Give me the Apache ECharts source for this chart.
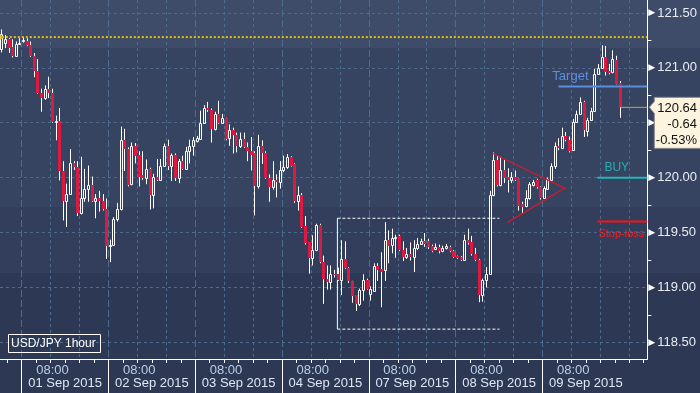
<!DOCTYPE html>
<html><head><meta charset="utf-8">
<script src="https://cdn.jsdelivr.net/npm/echarts@6/dist/echarts.min.js"></script>
<style>html,body{margin:0;padding:0;background:#2c3853;}#c{width:700px;height:393px;}</style>
</head><body><div id="c"></div>
<script>
// ---------- categories (hourly slots) ----------
const slotDays = ['31 Aug 2015','01 Sep 2015','02 Sep 2015','03 Sep 2015','04 Sep 2015','07 Sep 2015','08 Sep 2015','09 Sep 2015','10 Sep 2015'];
const firstSlotHour = 18;   // first slot on 31 Aug
const lastSlotHour = 4;     // last (empty) slot on 10 Sep

// ---------- candles [open, close, low, high] per day ----------
const aug31 = [
 [121.17,121.31,121.14,121.35],[121.23,121.26,121.18,121.30],[121.26,121.18,121.135,121.27],
 [121.19,121.105,121.095,121.26],[121.105,121.22,121.10,121.24],[121.22,121.23,121.21,121.27]];
const sep01 = [
 [121.245,121.25,121.23,121.28],[121.24,121.21,121.20,121.27],[121.21,121.105,121.10,121.24],
 [121.11,120.975,120.915,121.135],[120.975,120.77,120.765,121.08],[120.77,120.725,120.60,120.81],
 [120.725,120.81,120.71,120.84],[120.81,120.775,120.725,120.92],[120.775,120.505,120.50,120.81],
 [120.505,120.515,120.34,120.565],[120.515,120.06,119.975,120.635],[120.06,119.785,119.61,120.15],
 [119.785,119.855,119.55,119.945],[119.855,120.13,119.85,120.26],[120.13,120.095,120.07,120.15],
 [120.095,119.675,119.65,120.15],[119.675,119.815,119.665,120.19],[119.815,119.90,119.78,120.08],
 [119.90,119.935,119.78,120.11],[119.935,119.785,119.78,120.01],[119.785,119.81,119.63,119.85],
 [119.81,119.785,119.69,119.88],[119.79,119.715,119.70,119.85],[119.715,119.375,119.26,119.81]];
const sep02 = [
 [119.375,119.39,119.23,119.435],[119.39,119.625,119.38,119.64],[119.625,119.715,119.60,119.77],
 [119.715,120.345,119.70,120.465],[120.345,120.26,120.06,120.445],[120.26,119.935,119.92,120.275],
 [119.94,120.29,119.93,120.32],[120.29,120.20,120.13,120.315],[120.21,120.01,119.92,120.24],
 [120.02,120.00,119.98,120.24],[120.00,120.075,119.94,120.165],[120.075,119.84,119.71,120.09],
 [119.84,120.01,119.72,120.035],[120.01,119.98,119.97,120.17],[119.98,120.11,119.975,120.17],
 [120.11,120.29,120.10,120.31],[120.29,120.11,120.07,120.345],[120.11,120.21,119.97,120.22],
 [120.21,120.00,119.97,120.22],[120.00,120.15,119.95,120.17],[120.15,120.08,120.07,120.20],
 [120.08,120.24,120.07,120.28],[120.24,120.29,120.13,120.345],[120.29,120.34,120.20,120.37]];
const sep03 = [
 [120.33,120.36,120.32,120.38],[120.355,120.50,120.35,120.61],[120.50,120.63,120.49,120.66],
 [120.63,120.615,120.60,120.69],[120.62,120.44,120.32,120.63],[120.44,120.58,120.43,120.60],
 [120.58,120.50,120.49,120.70],[120.50,120.54,120.49,120.58],[120.54,120.355,120.34,120.545],
 [120.36,120.43,120.29,120.485],[120.43,120.385,120.22,120.455],[120.385,120.285,120.23,120.41],
 [120.285,120.355,120.27,120.41],[120.355,120.28,120.27,120.41],[120.28,120.245,120.15,120.32],
 [120.245,120.21,120.065,120.37],[120.22,119.92,119.655,120.24],[119.92,120.285,119.90,120.39],
 [120.285,120.22,120.125,120.34],[120.22,120.00,119.99,120.24],[120.00,119.915,119.78,120.03],
 [119.915,119.98,119.89,120.15],[119.98,119.96,119.82,120.03],[119.96,120.07,119.90,120.15]];
const sep04 = [
 [120.07,120.10,120.05,120.20],[120.10,120.19,120.08,120.215],[120.19,120.11,120.10,120.195],
 [120.125,119.79,119.77,120.13],[119.79,119.845,119.70,119.92],[119.845,119.55,119.54,119.86],
 [119.555,119.405,119.39,119.65],[119.41,119.27,119.125,119.41],[119.27,119.345,119.20,119.475],
 [119.34,119.565,119.33,119.58],[119.565,119.23,119.22,119.58],[119.23,119.075,118.85,119.29],
 [119.08,119.05,118.98,119.20],[119.05,119.12,118.98,119.20],[119.12,119.11,119.09,119.16],
 [119.12,119.07,119.06,119.18],[119.07,119.26,118.93,119.43],[119.26,119.18,119.17,119.42],
 [119.18,119.055,119.04,119.185],[119.06,118.92,118.86,119.06],[118.93,118.85,118.785,118.93],
 [118.85,118.975,118.83,118.99],[118.975,119.065,118.88,119.12],[119.065,118.99,118.98,119.08]];
const sep07 = [
 [118.94,118.99,118.88,119.01],[118.97,119.195,118.96,119.22],[119.195,119.155,119.06,119.22],
 [119.165,119.14,118.82,119.32],[119.155,119.43,119.06,119.595],[119.43,119.38,119.22,119.52],
 [119.39,119.45,119.31,119.535],[119.45,119.46,119.27,119.48],[119.465,119.34,119.33,119.48],
 [119.345,119.275,119.24,119.42],[119.275,119.30,119.26,119.36],[119.30,119.275,119.245,119.41],
 [119.275,119.36,119.14,119.43],[119.36,119.40,119.34,119.45],[119.40,119.42,119.39,119.445],
 [119.42,119.40,119.37,119.495],[119.42,119.37,119.35,119.445],[119.375,119.335,119.32,119.39],
 [119.35,119.37,119.34,119.40],[119.37,119.33,119.31,119.39],[119.33,119.355,119.32,119.38],
 [119.355,119.375,119.345,119.395],[119.37,119.335,119.32,119.38],[119.335,119.275,119.27,119.34]];
const sep08 = [
 [119.285,119.27,119.26,119.29],[119.275,119.25,119.24,119.285],[119.25,119.435,119.245,119.48],
 [119.435,119.405,119.39,119.535],[119.41,119.30,119.29,119.47],[119.30,119.25,119.24,119.36],
 [119.25,118.93,118.865,119.26],[118.93,119.065,118.87,119.08],[119.065,119.125,119.00,119.185],
 [119.125,119.84,119.12,119.88],[119.84,120.16,119.83,120.23],[120.16,119.93,119.92,120.20],
 [119.93,120.07,119.92,120.19],[120.07,120.00,119.95,120.16],[120.01,119.975,119.865,120.085],
 [119.98,120.01,119.95,120.05],[120.01,119.98,119.97,120.065],[119.99,119.745,119.70,119.99],
 [119.76,119.735,119.67,119.78],[119.74,119.815,119.73,119.885],[119.81,119.94,119.80,119.96],
 [119.93,119.96,119.92,119.98],[119.975,119.915,119.90,119.99],[119.915,119.815,119.80,119.92]];
const sep09 = [
 [119.815,119.905,119.81,119.92],[119.90,119.99,119.89,120.00],[119.98,120.11,119.97,120.13],
 [120.11,120.29,120.08,120.32],[120.285,120.27,120.25,120.36],[120.27,120.375,120.26,120.455],
 [120.375,120.34,120.33,120.415],[120.345,120.245,120.23,120.375],[120.255,120.505,120.25,120.535],
 [120.505,120.58,120.50,120.61],[120.58,120.685,120.57,120.73],[120.685,120.43,120.37,120.70],
 [120.425,120.525,120.375,120.545],[120.525,120.605,120.52,120.635],[120.605,120.945,120.60,120.99],
 [120.945,121.00,120.94,121.035],[121.00,121.10,120.99,121.205],[121.10,120.96,120.93,121.20],
 [120.97,120.95,120.94,121.035],[120.96,121.08,120.95,121.16],[121.075,120.855,120.85,121.11],
 [120.86,120.64,120.545,120.88]];

// ---------- axis tick labels ----------
const yTickLabels = [118.5, 119.0, 119.5, 120.0, 120.5, 121.0, 121.5];
const yMinorTicks = [118.75, 119.25, 119.75, 120.25, 120.75, 121.25];
const yRange = [118.348, 121.618];
const timeLabelHour = 8;   // "08:00"
const dateLabelHour = 12;  // date centred on noon

// ---------- annotations ----------
const highLevel = 121.28;          // yellow dotted
const targetLevel = 120.83;
const buyLevel = 120.00;
const stopLevel = 119.60;
const lastChange = '-0.64';
const lastPct = '-0.53%';
const rangeBoxX = [92.8, 137.6];
const rangeBoxY = [118.62, 119.63];
const pennantUpper = [[135.8, 120.22], [155.9, 119.90]];
const pennantLower = [[139.8, 119.59], [155.9, 119.91]];
const targetStart = 153.9, levelStart = 164.7;

// ---------- build ----------
const categories = [];
slotDays.forEach((d, k) => {
  const h0 = k === 0 ? firstSlotHour : 0;
  const h1 = k === slotDays.length - 1 ? lastSlotHour : 23;
  for (let h = h0; h <= h1; h++) categories.push({ day: d, hour: h });
});
const candles = [].concat(aug31, sep01, sep02, sep03, sep04, sep07, sep08, sep09);
const candleData = candles.map((r, i) => [i, r[0], r[1], r[2], r[3]]);
const nSlots = categories.length;
const xMin = -0.5, xMax = nSlots - 0.5;
const lastClose = candles[candles.length - 1][1];

const dayBounds = [], eightHourLines = [], fourHourTicks = [], timeLabels = [], dateLabels = [];
categories.forEach((c, i) => {
  const hasData = i < candles.length;
  if (c.hour === 0 && hasData) dayBounds.push(i - 0.5);
  else if (c.hour % 8 === 0) eightHourLines.push(i - 0.5);
  if (c.hour % 4 === 0) fourHourTicks.push(i - 0.5);
  if (c.hour === timeLabelHour && hasData) timeLabels.push(i);
  if (c.hour === dateLabelHour && hasData) dateLabels.push(i - 0.5);
});
const hh = h => (h < 10 ? '0' : '') + h + ':00';

const RED = '#dc1a41';
const GRID = '#4e6b8c';

const chart = echarts.init(document.getElementById('c'));
const option = {
  animation: false,
  backgroundColor: 'transparent',
  grid: { left: 0, right: 52, top: 0, bottom: 34, containLabel: false },
  xAxis: [
    { type: 'value', min: xMin, max: xMax, position: 'bottom',
      axisLine: { show: true, onZero: false, lineStyle: { color: '#ffffff', width: 1 } },
      axisTick: { show: false, customValues: eightHourLines },
      splitLine: { show: true, lineStyle: { color: GRID, type: [3, 3], width: 1 } },
      axisLabel: { show: true, customValues: timeLabels, margin: 5, color: '#b9cfe6',
        fontFamily: 'Liberation Sans', fontSize: 13,
        formatter: v => hh(categories[Math.round(v)].hour) } },
    { type: 'value', min: xMin, max: xMax, position: 'bottom',
      axisLine: { show: false, onZero: false },
      axisTick: { show: true, customValues: dayBounds, length: 34, lineStyle: { color: '#ffffff', width: 1 } },
      splitLine: { show: true, lineStyle: { color: GRID, type: [7, 3], width: 1 } },
      axisLabel: { show: true, customValues: dateLabels, margin: 18, color: '#dde7f2',
        fontFamily: 'Liberation Sans', fontSize: 13,
        formatter: v => categories[Math.round(v + 0.5)].day } },
    { type: 'value', min: xMin, max: xMax, position: 'bottom',
      axisLine: { show: false, onZero: false },
      axisTick: { show: true, customValues: fourHourTicks, length: 4, lineStyle: { color: '#ffffff', width: 1 } },
      splitLine: { show: false }, axisLabel: { show: false } }
  ],
  yAxis: [
    { type: 'value', position: 'right', min: yRange[0], max: yRange[1],
      axisLine: { show: true, onZero: false, lineStyle: { color: '#ffffff', width: 1 } },
      axisTick: { show: false, customValues: yTickLabels },
      splitLine: { show: true, lineStyle: { color: GRID, type: [3, 3], width: 1 } },
      axisLabel: { show: true, customValues: yTickLabels, margin: 1,
        formatter: v => '{t|\u25B6}{v|' + v.toFixed(2) + '}',
        rich: { t: { fontSize: 9, color: '#ffffff', fontFamily: 'DejaVu Sans', padding: [0, 2, 0, 0] },
                v: { fontSize: 13, color: '#e8edf4', fontFamily: 'Liberation Sans' } } } },
    { type: 'value', position: 'right', min: yRange[0], max: yRange[1],
      axisLine: { show: false, onZero: false },
      axisTick: { show: true, customValues: yMinorTicks, length: 4, lineStyle: { color: '#ffffff' } },
      splitLine: { show: false }, axisLabel: { show: false } }
  ],
  series: [
    { type: 'custom', xAxisIndex: 0, yAxisIndex: 0, data: candleData, z: 3, silent: true,
      encode: { x: 0, y: [1, 2, 3, 4] },
      renderItem: (params, api) => {
        const i = api.value(0), o = api.value(1), c = api.value(2), l = api.value(3), h = api.value(4);
        const pO = api.coord([i, o]), pC = api.coord([i, c]);
        const yH = api.coord([i, h])[1], yL = api.coord([i, l])[1];
        const L = Math.round(pO[0] - 1.5);
        const wx = L + 1.5;
        const top = Math.min(pO[1], pC[1]), bot = Math.max(pO[1], pC[1]);
        const ch = [];
        if (c >= o) {
          const t = Math.round(top) + 0.5;
          const b = Math.max(Math.round(bot) + 0.5, t + 1);
          if (yH < t) ch.push({ type: 'line', shape: { x1: wx, y1: yH, x2: wx, y2: t }, style: { stroke: '#fff', lineWidth: 1 } });
          if (yL > b) ch.push({ type: 'line', shape: { x1: wx, y1: b, x2: wx, y2: yL }, style: { stroke: '#fff', lineWidth: 1 } });
          ch.push({ type: 'rect', shape: { x: L + 0.5, y: t, width: 2, height: b - t }, style: { stroke: '#fff', fill: 'none', lineWidth: 1 } });
        } else {
          ch.push({ type: 'line', shape: { x1: wx, y1: yH, x2: wx, y2: yL }, style: { stroke: '#fff', lineWidth: 1 } });
          const t = Math.round(top), b = Math.max(Math.round(bot), t + 1);
          ch.push({ type: 'rect', shape: { x: L, y: t, width: 3, height: b - t }, style: { fill: RED } });
        }
        return { type: 'group', children: ch };
      } },
    // yellow dotted high level
    { type: 'line', data: [[0, highLevel], [xMax, highLevel]], symbol: 'none', z: 4, silent: true,
      lineStyle: { color: '#e2c20c', width: 2, type: [2, 2] } },
    { type: 'scatter', data: [[-0.1, highLevel]], symbol: 'triangle', symbolRotate: -90, symbolSize: [7, 6], z: 5,
      itemStyle: { color: '#e2c20c' }, silent: true },
    // range box
    { type: 'line', data: [[rangeBoxX[0], rangeBoxY[1]], [rangeBoxX[1], rangeBoxY[1]]], symbol: 'none', z: 2, silent: true,
      lineStyle: { color: '#ffffff', width: 1, type: [3, 2] } },
    { type: 'line', data: [[rangeBoxX[0], rangeBoxY[0]], [rangeBoxX[1], rangeBoxY[0]]], symbol: 'none', z: 2, silent: true,
      lineStyle: { color: '#ffffff', width: 1, type: [3, 2] } },
    { type: 'line', data: [[rangeBoxX[0], rangeBoxY[0]], [rangeBoxX[0], rangeBoxY[1]]], symbol: 'none', z: 2, silent: true,
      lineStyle: { color: '#ffffff', width: 1 } },
    // pennant
    { type: 'line', data: pennantUpper, symbol: 'none', z: 4, silent: true, lineStyle: { color: '#d4182c', width: 1.3 } },
    { type: 'line', data: pennantLower, symbol: 'none', z: 4, silent: true, lineStyle: { color: '#d4182c', width: 1.3 } },
    // levels
    { type: 'line', data: [[targetStart, targetLevel], [xMax, targetLevel]], symbol: 'none', z: 4, silent: true,
      lineStyle: { color: '#5b8ee0', width: 2 } },
    { type: 'line', data: [[levelStart, buyLevel], [xMax, buyLevel]], symbol: 'none', z: 4, silent: true,
      lineStyle: { color: '#27b4b6', width: 2 } },
    { type: 'line', data: [[levelStart, stopLevel], [xMax, stopLevel]], symbol: 'none', z: 4, silent: true,
      lineStyle: { color: '#ff1010', width: 2 } },
    { type: 'line', data: [[candles.length - 1, lastClose], [xMax, lastClose]], symbol: 'none', z: 4, silent: true,
      lineStyle: { color: '#c9a830', width: 1 } }
  ]
};
chart.setOption(option);

const P = (x, y) => chart.convertToPixel({ xAxisIndex: 0, yAxisIndex: 0 }, [x, y]);
const pT = P(targetStart, targetLevel), pB = P(levelStart, buyLevel), pS = P(levelStart, stopLevel);
const pL = P(xMax, lastClose);
const bx = pL[0] + 2, by = pL[1];
chart.setOption({
  graphic: [
    { type: 'rect', z: -10, silent: true, shape: { x: 0, y: 0, width: 700, height: 48 }, style: { fill: '#3e4b69' } },
    { type: 'rect', z: -10, silent: true, shape: { x: 0, y: 48, width: 700, height: 159 }, style: { fill: '#374461' } },
    { type: 'rect', z: -10, silent: true, shape: { x: 0, y: 207, width: 700, height: 66 }, style: { fill: '#323e5b' } },
    { type: 'rect', z: -10, silent: true, shape: { x: 0, y: 273, width: 700, height: 120 }, style: { fill: '#2d3954' } },
    { type: 'text', z: 10, silent: true, style: { x: pT[0] - 6, y: pT[1] - 10, text: 'Target', fill: '#5b8ee0',
        font: '13px "Liberation Sans"', verticalAlign: 'middle' } },
    { type: 'text', z: 10, silent: true, style: { x: pB[0] + 7, y: pB[1] - 10, text: 'BUY', fill: '#27aeb0',
        font: '12px "Liberation Sans"', verticalAlign: 'middle' } },
    { type: 'text', z: 10, silent: true, style: { x: pS[0] + 1, y: pS[1] + 12, text: 'Stop-loss', fill: '#ff1a1a',
        font: '11px "Liberation Sans"', verticalAlign: 'middle' } },
    { type: 'polygon', z: 10, silent: true,
      shape: { points: [[bx, by], [bx + 5, by - 6], [bx + 5, by - 10], [702, by - 10], [702, by + 41], [bx + 5, by + 41], [bx + 5, by + 6]] },
      style: { fill: '#fdf4e0', stroke: '#8a8a8a', lineWidth: 1 } },
    { type: 'text', z: 11, silent: true, style: { x: 697, y: by + 1, text: lastClose.toFixed(2), fill: '#111',
        font: '13px "Liberation Sans"', align: 'right', verticalAlign: 'middle' } },
    { type: 'text', z: 11, silent: true, style: { x: 697, y: by + 17, text: lastChange, fill: '#111',
        font: '13px "Liberation Sans"', align: 'right', verticalAlign: 'middle' } },
    { type: 'text', z: 11, silent: true, style: { x: 697, y: by + 33, text: lastPct, fill: '#111',
        font: '13px "Liberation Sans"', align: 'right', verticalAlign: 'middle' } },
    { type: 'rect', z: 10, silent: true, shape: { x: 8.5, y: 334.5, width: 92, height: 18 },
      style: { fill: 'none', stroke: '#ffffff', lineWidth: 1 } },
    { type: 'text', z: 11, silent: true, style: { x: 11, y: 344, text: 'USD/JPY 1hour', fill: '#ffffff',
        font: '12px "Liberation Sans"', verticalAlign: 'middle' } }
  ]
});
</script></body></html>
